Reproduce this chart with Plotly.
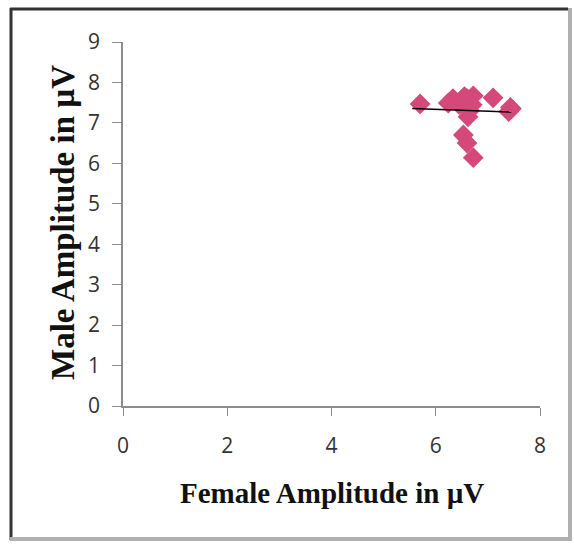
import numpy as np
import plotly.graph_objects as go

female = [5.70, 6.24, 6.33, 6.45, 6.53, 6.60, 6.72, 6.70, 6.62, 7.10, 7.43, 7.40, 6.53, 6.60, 6.72, 6.65, 7.45, 6.60, 6.55]
male = [7.47, 7.49, 7.60, 7.45, 7.55, 7.40, 7.67, 7.45, 7.15, 7.62, 7.38, 7.28, 6.70, 6.50, 6.14, 7.30, 7.35, 7.60, 7.65]

x_ticks = [0, 2, 4, 6, 8]
y_ticks = list(range(0, 10))

W, H = 574, 544
L, R, T, B = 123, 34, 42, 138

slope, intercept = np.polyfit(female, male, 1)
tx = np.array([min(female) - 0.15, max(female)])
ty = slope * tx + intercept

fig = go.Figure()
fig.add_trace(go.Scatter(x=female, y=male, mode="markers",
                         marker=dict(symbol="diamond", size=16, color="#D4497A",
                                     line=dict(width=0)),
                         showlegend=False, hoverinfo="skip"))
fig.add_trace(go.Scatter(x=tx, y=ty, mode="lines",
                         line=dict(color="black", width=1.5),
                         showlegend=False, hoverinfo="skip"))

pw = W - L - R
ph = H - T - B
def px(x):
    return (x - L) / pw
def py(y):
    return (H - B - y) / ph

shapes = [
    dict(type="line", xref="paper", yref="paper", x0=px(10), x1=px(568), y0=py(9), y1=py(9),
         line=dict(color="#333333", width=3)),
    dict(type="line", xref="paper", yref="paper", x0=px(11), x1=px(11), y0=py(8), y1=py(540),
         line=dict(color="#333333", width=3)),
    dict(type="line", xref="paper", yref="paper", x0=px(570), x1=px(570), y0=py(8), y1=py(540),
         line=dict(color="#b0b0b0", width=4)),
    dict(type="line", xref="paper", yref="paper", x0=px(10), x1=px(572), y0=py(539), y1=py(539),
         line=dict(color="#b0b0b0", width=4)),
]

annotations = [
    dict(text="Female Amplitude in µV", xref="paper", yref="paper",
         x=px(331.5), y=py(493), xanchor="center", yanchor="middle",
         showarrow=False,
         font=dict(family="Liberation Serif", size=29, color="#111111", weight="bold")),
    dict(text="Male Amplitude in µV", xref="paper", yref="paper",
         x=px(63), y=py(223), xanchor="center", yanchor="middle", textangle=-90,
         showarrow=False,
         font=dict(family="Liberation Serif", size=33, color="#111111", weight="bold")),
]

fig.update_layout(
    width=W, height=H,
    margin=dict(l=L, r=R, t=T, b=B),
    paper_bgcolor="white", plot_bgcolor="white",
    shapes=shapes, annotations=annotations,
    font=dict(family="Open Sans", size=21, color="#333333"),
    xaxis=dict(range=[0, 8], tickvals=x_ticks, showgrid=False, zeroline=False,
               showline=True, linecolor="#8c8c8c", linewidth=1.5,
               ticks="outside", ticklen=8, tickcolor="#8c8c8c",
               ticklabelstandoff=12,
               tickfont=dict(family="Open Sans", size=21)),
    yaxis=dict(range=[0, 9], tickvals=y_ticks, showgrid=False, zeroline=False,
               showline=True, linecolor="#8c8c8c", linewidth=1.5,
               ticks="outside", ticklen=9, tickcolor="#8c8c8c",
               ticklabelstandoff=8,
               tickfont=dict(family="Open Sans", size=21)),
)

fig.write_html("out.html", config={"displayModeBar": False},
               post_script="document.body.style.margin='0';document.body.style.overflow='hidden';")
